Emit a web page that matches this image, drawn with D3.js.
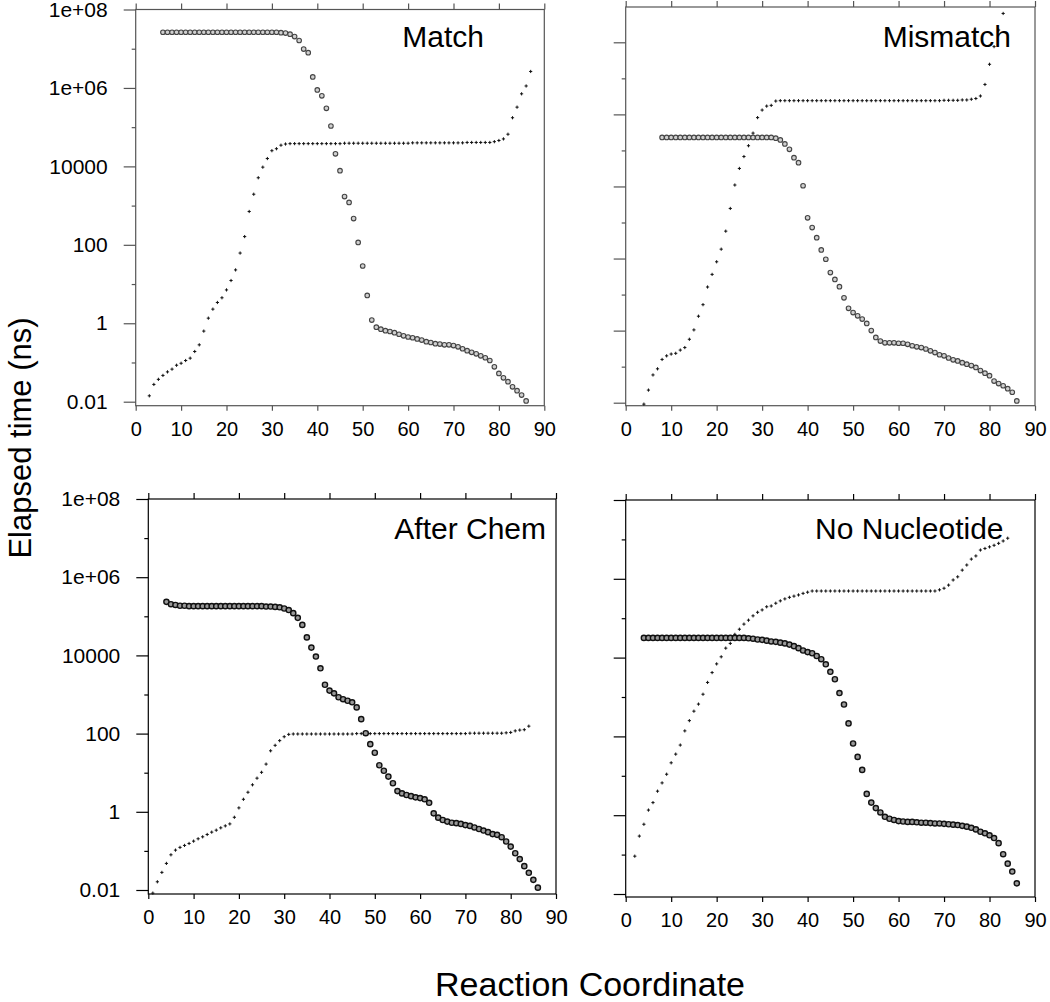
<!DOCTYPE html>
<html><head><meta charset="utf-8">
<script src="https://cdn.jsdelivr.net/npm/d3@7"></script>
<style>
body{margin:0;background:#fff}
svg{display:block}
text{font-family:"Liberation Sans",Arial,Helvetica,sans-serif;fill:#000}
</style>
</head><body><svg id="c" width="1050" height="1002"></svg>
<script>
// ---------- DATA ----------
const xTickValues = [0,10,20,30,40,50,60,70,80,90];
const yMajorValues = [1e-2,1,1e2,1e4,1e6,1e8];
const yMajorLabels = ["0.01","1","100","10000","1e+06","1e+08"];
const yMinorValues = [1e-1,1e1,1e3,1e5,1e7];
const panelTitles = ["Match","Mismatch","After Chem","No Nucleotide"];
const xAxisTitle = "Reaction Coordinate";
const yAxisTitle = "Elapsed time (ns)";

// log10(elapsed time, ns) per integer reaction coordinate, first x given by *Start
const matchCircleStart = 6;
const matchCircleLog = [7.42,7.42,7.42,7.42,7.42,7.42,7.42,7.42,7.42,7.42,7.42,7.42,7.42,7.42,7.42,7.42,7.42,7.42,7.42,7.42,7.42,7.42,7.42,7.42,7.42,7.42,7.41,
 7.40,7.37,7.31,7.21,6.99,6.90,6.28,5.95,5.80,5.48,5.03,4.32,3.89,3.23,3.08,2.67,2.06,1.46,0.71,0.08,-0.10,
 -0.15,-0.19,-0.21,-0.24,-0.28,-0.32,-0.35,-0.37,-0.40,-0.43,-0.47,-0.49,-0.52,-0.53,-0.55,-0.55,-0.57,-0.60,-0.65,-0.70,-0.74,-0.78,-0.83,-0.88,-0.95,
 -1.11,-1.28,-1.39,-1.49,-1.62,-1.72,-1.83,-1.98];
const matchDotStart = 3;
const matchDotLog = [-1.85,-1.56,-1.43,-1.33,-1.24,-1.17,-1.07,-1.02,-0.95,-0.89,-0.72,-0.55,-0.20,0.13,0.36,0.53,0.65,0.85,1.09,1.36,1.79,2.21,2.85,3.29,3.71,3.98,4.20,4.40,4.45,4.54,4.57,
 4.58,4.58,4.58,4.58,4.58,4.58,4.58,4.58,4.58,4.58,4.58,4.58,4.59,4.59,4.59,4.59,4.59,4.59,4.59,4.59,4.59,4.59,4.59,4.59,4.59,4.59,4.59,
 4.60,4.60,4.60,4.60,4.60,4.60,4.60,4.60,4.60,4.60,4.60,4.60,4.61,4.61,4.61,4.61,4.61,4.61,
 4.63,4.66,4.70,4.82,5.24,5.51,5.85,6.05,6.42];

const mismatchCircleStart = 8;
const mismatchCircleLog = [5.36,5.36,5.36,5.36,5.36,5.36,5.36,5.36,5.36,5.36,5.36,5.36,5.36,5.36,5.36,5.36,5.36,5.36,5.36,5.36,5.36,5.36,5.36,5.36,5.36,
 5.34,5.29,5.18,5.03,4.80,4.66,4.02,3.13,2.86,2.58,2.24,1.98,1.61,1.42,1.22,0.91,0.62,0.50,0.41,0.32,0.20,0.00,-0.19,-0.29,-0.34,-0.34,-0.34,-0.35,-0.35,
 -0.38,-0.42,-0.45,-0.47,-0.51,-0.56,-0.61,-0.67,-0.70,-0.76,-0.81,-0.84,-0.89,-0.93,-0.97,-1.02,-1.11,-1.18,-1.25,-1.40,-1.47,-1.53,-1.61,-1.71,-1.95];
const mismatchDotStart = 4;
const mismatchDotLog = [-2.04,-1.65,-1.23,-1.06,-0.80,-0.70,-0.65,-0.63,-0.54,-0.47,-0.24,0.02,0.40,0.72,1.21,1.56,1.91,2.26,2.76,3.39,4.04,4.50,4.83,5.13,5.48,5.91,6.12,6.23,6.25,6.37,
 6.38,6.38,6.38,6.38,6.38,6.38,6.38,6.38,6.38,6.38,6.38,6.38,6.38,6.38,6.38,6.38,6.38,6.38,6.38,6.38,6.38,6.38,6.38,6.38,6.38,6.38,6.38,6.38,6.38,6.38,6.38,6.38,6.38,6.38,6.38,6.38,6.39,6.39,6.39,6.39,6.40,6.40,
 6.42,6.44,6.51,6.83,7.39,7.88,8.34,8.80];

const afterChemCircleStart = 4;
const afterChemCircleLog = [5.37,5.31,5.29,5.27,5.27,5.26,5.26,5.26,5.26,5.26,5.26,5.26,5.26,5.26,5.26,5.26,5.26,5.26,5.26,5.26,5.26,5.26,5.25,5.25,5.24,
 5.23,5.20,5.16,5.08,4.96,4.78,4.46,4.20,3.97,3.67,3.25,3.10,3.03,2.93,2.88,2.84,2.80,2.67,2.37,2.01,1.73,1.51,1.19,1.05,0.90,0.73,0.53,0.47,0.43,0.40,0.37,0.35,0.32,0.23,
 -0.04,-0.15,-0.21,-0.25,-0.28,-0.29,-0.31,-0.34,-0.36,-0.40,-0.44,-0.48,-0.52,-0.57,-0.59,-0.65,-0.76,-0.89,-1.06,-1.21,-1.39,-1.56,-1.74,-1.94];
const afterChemDotStart = 1;
const afterChemDotLog = [-2.08,-1.79,-1.55,-1.32,-1.10,-0.98,-0.91,-0.86,-0.81,-0.75,-0.69,-0.64,-0.58,-0.52,-0.47,-0.41,-0.36,-0.31,-0.14,0.10,0.32,0.50,0.69,0.86,1.01,1.22,1.56,1.70,1.82,1.92,1.98,
 1.99,1.99,1.99,1.99,1.99,1.99,1.99,1.99,1.99,1.99,1.99,1.99,1.99,1.99,
 2.00,2.00,2.00,2.00,2.00,2.00,2.00,2.00,2.00,2.00,2.00,2.00,2.00,2.00,2.00,2.00,2.00,2.00,2.00,2.00,2.00,2.00,2.00,2.00,2.00,
 2.01,2.01,2.01,2.01,2.01,2.01,2.01,2.01,2.02,2.03,2.07,2.09,2.10,2.19];

const noNucCircleStart = 4;
const noNucCircleLog = [4.50,4.50,4.50,4.50,4.50,4.50,4.50,4.50,4.50,4.50,4.50,4.50,4.50,4.50,4.50,4.50,4.50,4.50,4.50,4.50,4.50,4.50,4.50,4.49,
 4.48,4.46,4.45,4.43,4.41,4.40,4.38,4.36,4.33,4.29,4.24,4.18,4.14,4.11,4.04,3.96,3.83,3.64,3.45,3.10,2.81,2.33,1.82,1.48,1.15,0.54,0.32,0.18,0.07,-0.04,-0.09,-0.12,-0.15,
 -0.16,-0.17,-0.17,-0.18,-0.19,-0.19,-0.20,-0.21,-0.21,-0.22,-0.23,-0.24,-0.25,-0.27,-0.29,-0.32,-0.36,-0.42,-0.46,-0.51,-0.58,-0.71,-0.99,-1.23,-1.43,-1.73];
const noNucDotStart = 2;
const noNucDotLog = [-1.04,-0.53,-0.23,0.13,0.32,0.61,0.82,1.04,1.33,1.55,1.78,2.14,2.40,2.64,2.82,3.07,3.37,3.62,3.84,4.02,4.24,4.36,4.59,4.72,4.85,4.95,5.06,5.15,5.21,5.29,5.31,5.38,5.44,5.49,5.53,5.56,5.59,5.63,5.66,
 5.69,5.69,5.69,5.69,5.69,5.69,5.69,5.69,5.69,5.69,5.69,5.69,5.69,5.69,5.69,5.69,5.69,5.69,5.69,5.69,5.69,5.69,5.69,5.69,5.69,5.69,5.69,5.69,
 5.72,5.76,5.84,5.97,6.05,6.22,6.35,6.50,6.58,6.73,6.77,6.81,6.85,6.90,6.96,7.03];

// ---------- LAYOUT ----------
const svg = d3.select("#c");
svg.append("rect").attr("width",1050).attr("height",1002).attr("fill","#fff");

const panels = [
  {title:panelTitles[0], cs:matchCircleStart, c:matchCircleLog, ds:matchDotStart, d:matchDotLog,
   x0:135.7, x1:544.3, top:9.5, bot:405.7, yHi:9.5, yLo:401.7, labels:true, dark:false, tx:484, ty:47.3},
  {title:panelTitles[1], cs:mismatchCircleStart, c:mismatchCircleLog, ds:mismatchDotStart, d:mismatchDotLog,
   x0:625.7, x1:1035, top:7, bot:405.7, yHi:42.3, yLo:402.7, labels:false, dark:false, tx:1011, ty:47.3},
  {title:panelTitles[2], cs:afterChemCircleStart, c:afterChemCircleLog, ds:afterChemDotStart, d:afterChemDotLog,
   x0:148.3, x1:556, top:499, bot:894, yHi:499, yLo:890, labels:true, dark:true, tx:546, ty:539.3},
  {title:panelTitles[3], cs:noNucCircleStart, c:noNucCircleLog, ds:noNucDotStart, d:noNucDotLog,
   x0:625.7, x1:1035, top:500, bot:897, yHi:500, yLo:894, labels:false, dark:true, tx:1003.5, ty:538.5}
];

panels.forEach(p => {
  const col = p.dark ? "#000" : "#555";
  const x = d3.scaleLinear().domain([0,90]).range([p.x0,p.x1]);
  const y = d3.scaleLog().domain([1e-2,1e8]).range([p.yLo,p.yHi]);
  const g = svg.append("g");

  g.append("rect").attr("x",p.x0).attr("y",p.top).attr("width",p.x1-p.x0).attr("height",p.bot-p.top)
    .attr("fill","none").attr("stroke",col).attr("stroke-width",1.2);

  const ya = g.append("g").attr("transform",`translate(${p.x0},0)`)
    .call(d3.axisLeft(y).tickValues(yMajorValues).tickSize(12).tickPadding(16)
      .tickFormat((d,i)=> p.labels ? yMajorLabels[i] : ""));
  ya.select(".domain").remove();
  ya.selectAll(".tick line").attr("stroke",col).attr("stroke-width",1.2);
  ya.selectAll(".tick text").attr("font-size",21).attr("font-family",null).attr("fill","#000");
  const ym = g.append("g").attr("transform",`translate(${p.x0},0)`)
    .call(d3.axisLeft(y).tickValues(yMinorValues).tickSize(4).tickFormat(""));
  ym.select(".domain").remove();
  ym.selectAll(".tick line").attr("stroke",col).attr("stroke-width",1.2);

  const xb = g.append("g").attr("transform",`translate(0,${p.bot})`)
    .call(d3.axisBottom(x).tickValues(xTickValues).tickSize(5).tickPadding(11).tickFormat(d3.format("d")));
  xb.select(".domain").remove();
  xb.selectAll(".tick line").attr("stroke",col).attr("stroke-width",1.2);
  xb.selectAll(".tick text").attr("font-size",20).attr("font-family",null).attr("fill","#000");
  const xt = g.append("g").attr("transform",`translate(0,${p.top})`)
    .call(d3.axisTop(x).tickValues(xTickValues).tickSize(6).tickFormat(""));
  xt.select(".domain").remove();
  xt.selectAll(".tick line").attr("stroke",col).attr("stroke-width",1.2);

  const dots = p.d.map((v,i)=>({x:p.ds+i, t:Math.pow(10,v)}));
  g.append("g").selectAll("path").data(dots).join("path")
    .attr("transform",d=>`translate(${x(d.x)},${y(d.t)})`)
    .attr("d","M-1.6,0H1.6M0,-1.6V1.6")
    .attr("stroke","#111").attr("stroke-width",1);

  const circ = p.c.map((v,i)=>({x:p.cs+i, t:Math.pow(10,v)}));
  g.append("g").selectAll("circle").data(circ).join("circle")
    .attr("cx",d=>x(d.x)).attr("cy",d=>y(d.t))
    .attr("r", p.dark ? 2.6 : 2.3)
    .attr("fill", p.dark ? "#999" : "#d0d0d0")
    .attr("stroke", p.dark ? "#111" : "#444")
    .attr("stroke-width", p.dark ? 1.4 : 1.1);

  g.append("text").attr("x",p.tx).attr("y",p.ty).attr("text-anchor","end")
    .attr("font-size",30).text(p.title);
});

svg.append("text").attr("transform","translate(31,438) rotate(-90)")
  .attr("text-anchor","middle").attr("font-size",31).text(yAxisTitle);
svg.append("text").attr("x",590).attr("y",996)
  .attr("text-anchor","middle").attr("font-size",34).text(xAxisTitle);
</script>
</body></html>
